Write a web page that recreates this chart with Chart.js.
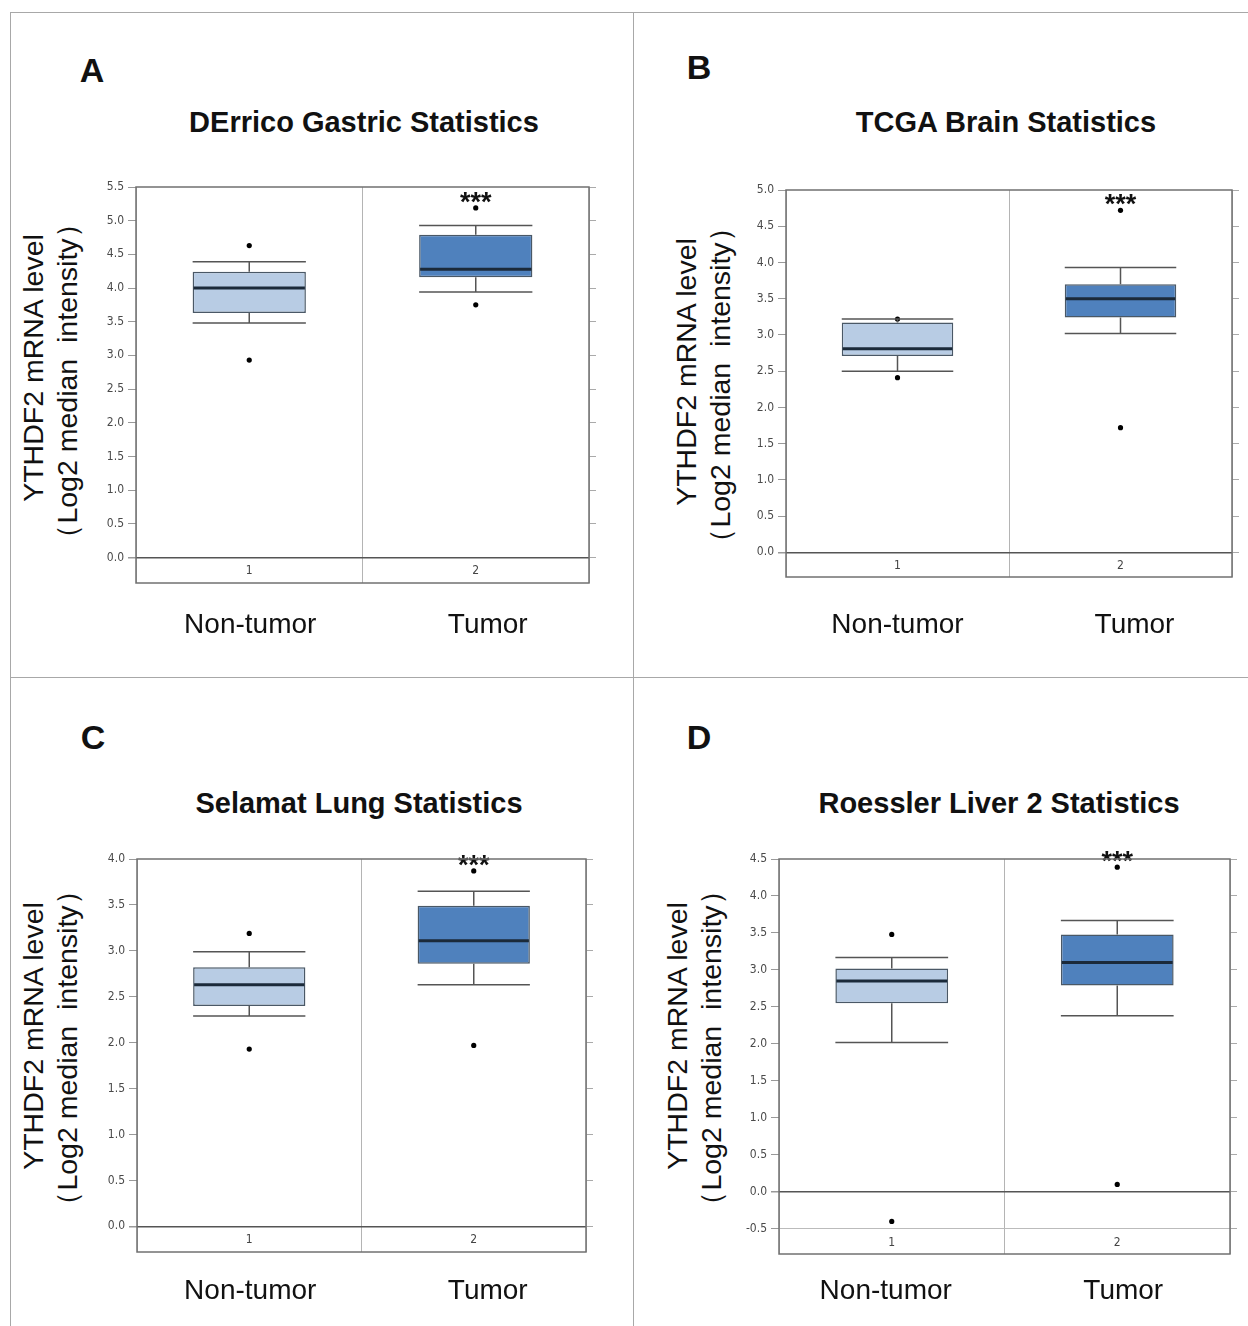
<!DOCTYPE html>
<html>
<head>
<meta charset="utf-8">
<script src="https://cdn.jsdelivr.net/npm/chart.js@4.4.1/dist/chart.umd.min.js"></script>
<style>
  body { margin: 0; background: #fff; width: 1248px; height: 1326px; position: relative; overflow: hidden; font-family: 'Liberation Sans', Arial, sans-serif; color: #111; }
  .rule { position: absolute; background: #a8a8a8; }
  .letter { position: absolute; font-weight: bold; font-size: 34px; line-height: 34px; transform: translate(-50%, -50%); }
  .title { position: absolute; font-weight: bold; font-size: 29px; line-height: 29px; white-space: pre; transform: translate(-50%, -50%); }
  .ytitle { position: absolute; font-size: 28.5px; line-height: 28px; white-space: pre; transform: translate(-50%, -50%) rotate(-90deg); }
</style>
</head>
<body>
<div class="rule" style="left:10px;top:12px;width:1238px;height:1px"></div>
<div class="rule" style="left:10px;top:12px;width:1px;height:1314px"></div>
<div class="rule" style="left:633px;top:12px;width:1px;height:1314px"></div>
<div class="rule" style="left:10px;top:677px;width:1238px;height:1px"></div>
<script>
const groups = ['Non-tumor', 'Tumor']
const boxNumbers = ['1', '2']
const sigLabel = '***'
const yTitleLines = ['YTHDF2 mRNA level', '（Log2 median  intensity）']

// each box: [lower whisker, q1, median, q3, upper whisker]
const gastricStats = [[3.48, 3.63, 4.00, 4.24, 4.39], [3.94, 4.16, 4.28, 4.79, 4.93]]
const gastricOutliers = [[4.63, 2.93], [5.19, 3.75]]
const gastricTicks = [0, 0.5, 1, 1.5, 2, 2.5, 3, 3.5, 4, 4.5, 5, 5.5]
const gastricRange = [-0.38, 5.5]

const brainStats = [[2.50, 2.71, 2.81, 3.17, 3.22], [3.02, 3.24, 3.50, 3.70, 3.93]]
const brainOutliers = [[3.22, 2.41], [4.72, 1.72]]
const brainTicks = [0, 0.5, 1, 1.5, 2, 2.5, 3, 3.5, 4, 4.5, 5]
const brainRange = [-0.34, 5.0]

const lungStats = [[2.29, 2.40, 2.63, 2.82, 2.99], [2.63, 2.86, 3.11, 3.49, 3.65]]
const lungOutliers = [[3.19, 1.93], [3.87, 1.97]]
const lungTicks = [0, 0.5, 1, 1.5, 2, 2.5, 3, 3.5, 4]
const lungRange = [-0.28, 4.0]

const liverStats = [[2.02, 2.55, 2.85, 3.02, 3.17], [2.38, 2.79, 3.10, 3.48, 3.67]]
const liverOutliers = [[3.48, -0.40], [4.39, 0.10]]
const liverTicks = [-0.5, 0, 0.5, 1, 1.5, 2, 2.5, 3, 3.5, 4, 4.5]
const liverRange = [-0.84, 4.5]

const boxFill = ['#b8cce4', '#4f81bd']

const panels = [
  { letter: 'A', title: 'DErrico Gastric Statistics', stats: gastricStats, outliers: gastricOutliers, ticks: gastricTicks, range: gastricRange,
    frame: { left: 136, top: 187, right: 589, bottom: 583 }, letterPos: [92, 70], titlePos: [364, 122], yTitlePos: [[33, 368], [67, 381]],
    labelY: 625, labelShift: [1, 12] },
  { letter: 'B', title: 'TCGA Brain Statistics', stats: brainStats, outliers: brainOutliers, ticks: brainTicks, range: brainRange,
    frame: { left: 786, top: 190, right: 1232, bottom: 577 }, letterPos: [699, 67], titlePos: [1006, 122], yTitlePos: [[686, 372], [720, 385]],
    labelY: 625, labelShift: [0, 14] },
  { letter: 'C', title: 'Selamat Lung Statistics', stats: lungStats, outliers: lungOutliers, ticks: lungTicks, range: lungRange,
    frame: { left: 137, top: 859, right: 586, bottom: 1252 }, letterPos: [93, 737], titlePos: [359, 803], yTitlePos: [[33, 1036], [67, 1048]],
    labelY: 1291, labelShift: [1, 14] },
  { letter: 'D', title: 'Roessler Liver 2 Statistics', stats: liverStats, outliers: liverOutliers, ticks: liverTicks, range: liverRange,
    frame: { left: 779, top: 859, right: 1230, bottom: 1254 }, letterPos: [699, 737], titlePos: [999, 803], yTitlePos: [[677, 1036], [711, 1048]],
    labelY: 1291, labelShift: [-6, 6] }
]

function addText(cls, text, x, y) {
  const el = document.createElement('div')
  el.className = cls
  el.textContent = text
  el.style.left = x + 'px'
  el.style.top = y + 'px'
  document.body.appendChild(el)
}

function makeBoxPlugin(p, top) {
  return {
    id: 'boxPlot' + p.letter,
    afterDatasetsDraw(chart) {
      const { ctx, chartArea, scales: { x: xs, y } } = chart
      const bars = chart.getDatasetMeta(0).data
      const py = v => y.getPixelForValue(v)
      const numY = (py(p.ticks[0]) + chartArea.bottom) / 2 + 1
      ctx.save()
      p.stats.forEach((s, i) => {
        const x = bars[i].x
        const half = bars[i].width / 2
        // whiskers + caps
        ctx.strokeStyle = '#555'
        ctx.lineWidth = 1.5
        ctx.beginPath()
        ctx.moveTo(x, py(s[0])); ctx.lineTo(x, py(s[1]))
        ctx.moveTo(x, py(s[3])); ctx.lineTo(x, py(s[4]))
        ctx.moveTo(x - half, py(s[0])); ctx.lineTo(x + half, py(s[0]))
        ctx.moveTo(x - half, py(s[4])); ctx.lineTo(x + half, py(s[4]))
        ctx.stroke()
        // median
        ctx.strokeStyle = '#1b2a3a'
        ctx.lineWidth = 3
        ctx.beginPath()
        ctx.moveTo(x - half + 1, py(s[2])); ctx.lineTo(x + half - 1, py(s[2]))
        ctx.stroke()
        // box number inside the frame, below the lowest tick
        ctx.fillStyle = '#444'
        ctx.font = '12px "DejaVu Sans Condensed"'
        ctx.textAlign = 'center'
        ctx.textBaseline = 'middle'
        ctx.fillText(boxNumbers[i], x, numY)
        // group name under the frame
        ctx.fillStyle = '#111'
        ctx.font = '28px "Liberation Sans"'
        ctx.fillText(groups[i], xs.getPixelForValue(i) + p.labelShift[i], p.labelY - top)
      })
      // significance mark over the tumor group
      const t = bars[1]
      ctx.fillStyle = '#111'
      ctx.font = 'bold 27px "Liberation Sans"'
      ctx.textAlign = 'center'
      ctx.textBaseline = 'alphabetic'
      ctx.fillText(sigLabel, t.x, py(Math.max(...p.outliers[1])) + 3)
      ctx.restore()
    },
    afterDraw(chart) {
      const { ctx, chartArea: a } = chart
      ctx.save()
      ctx.strokeStyle = '#707070'
      ctx.lineWidth = 1.5
      ctx.strokeRect(a.left, a.top, a.right - a.left, a.bottom - a.top)
      ctx.restore()
    }
  }
}

function buildPanel(p) {
  const axisW = 50, rightW = 16, padTop = 30, xAxisH = 72
  const L = p.frame.left - axisW
  const T = p.frame.top - padTop
  const W = p.frame.right + rightW - L
  const H = p.frame.bottom + xAxisH - T

  addText('letter', p.letter, p.letterPos[0], p.letterPos[1])
  addText('title', p.title, p.titlePos[0], p.titlePos[1])
  addText('ytitle', yTitleLines[0], p.yTitlePos[0][0], p.yTitlePos[0][1])
  addText('ytitle', yTitleLines[1], p.yTitlePos[1][0], p.yTitlePos[1][1])

  const canvas = document.createElement('canvas')
  canvas.width = W
  canvas.height = H
  canvas.style.cssText = `position:absolute;left:${L}px;top:${T}px;width:${W}px;height:${H}px`
  document.body.appendChild(canvas)

  const points = []
  p.outliers.forEach((vals, i) => vals.forEach(v => points.push({ x: groups[i], y: v })))
  const setTicks = s => { s.ticks = p.ticks.map(v => ({ value: v })) }

  new Chart(canvas, {
    type: 'bar',
    data: {
      labels: groups,
      datasets: [{
        label: 'box',
        data: p.stats.map(s => [s[1], s[3]]),
        backgroundColor: boxFill,
        borderColor: '#4a5866',
        borderWidth: 1.5,
        borderSkipped: false,
        barPercentage: 0.5,
        categoryPercentage: 1,
        order: 2
      }, {
        type: 'line',
        label: 'outliers',
        data: points,
        showLine: false,
        pointRadius: 2.6,
        pointBackgroundColor: '#000',
        pointBorderWidth: 0,
        order: 1
      }]
    },
    options: {
      responsive: false,
      animation: false,
      layout: { padding: { top: padTop } },
      plugins: { legend: { display: false }, tooltip: { enabled: false } },
      scales: {
        x: {
          grid: { offset: true, color: '#b4b4b4', drawTicks: false },
          border: { display: false },
          ticks: { display: false },
          afterFit: s => { s.height = xAxisH }
        },
        y: {
          min: p.range[0],
          max: p.range[1],
          afterBuildTicks: setTicks,
          ticks: { callback: v => v.toFixed(1), font: { family: 'DejaVu Sans Condensed', size: 12 }, color: '#4a4a4a', padding: 4 },
          grid: {
            color: c => c.tick.value === 0 ? '#555' : (c.tick.value < 0 ? '#bbb' : 'rgba(0,0,0,0)'),
            lineWidth: c => c.tick.value === 0 ? 1.5 : 1,
            tickColor: '#999',
            tickLength: 8
          },
          border: { display: false },
          afterFit: s => { s.width = axisW }
        },
        y2: {
          position: 'right',
          min: p.range[0],
          max: p.range[1],
          afterBuildTicks: setTicks,
          ticks: { display: false },
          grid: { drawOnChartArea: false, tickColor: '#aaa', tickLength: 7 },
          border: { display: false },
          afterFit: s => { s.width = rightW }
        }
      }
    },
    plugins: [makeBoxPlugin(p, T)]
  })
}

panels.forEach(buildPanel)
</script>
</body>
</html>
